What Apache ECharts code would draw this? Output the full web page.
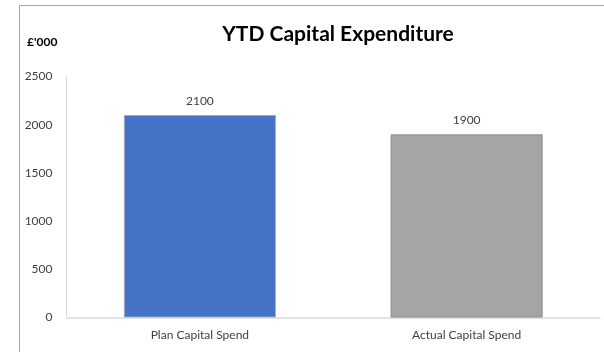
<!DOCTYPE html>
<html>
<head>
<meta charset="utf-8">
<script src="https://cdn.jsdelivr.net/npm/echarts@6/dist/echarts.min.js"></script>
<style>
  html, body { margin: 0; padding: 0; background: #ffffff; }
  #chart { width: 604px; height: 352px; }
</style>
</head>
<body>
<div id="chart"></div>
<script>
// Year-to-date capital figures, in £'000
const categories = ['Plan Capital Spend', 'Actual Capital Spend'];
const values = [2100, 1900];
const barColors = ['#4472C4', '#A5A5A5'];
const barBorders = ['#9fabc4', '#8c8c8c'];
const yTicks = { min: 0, max: 2500, interval: 500 };

const FONT = 'Lato, "Open Sans", sans-serif';

const chart = echarts.init(document.getElementById('chart'), null, { renderer: 'canvas' });

chart.setOption({
  animation: false,
  backgroundColor: '#ffffff',
  title: {
    text: 'YTD Capital Expenditure',
    left: 333,
    top: 19,
    textAlign: 'center',
    textStyle: { fontFamily: FONT, fontSize: 21, fontWeight: 'bold', color: '#000000' }
  },
  graphic: [
    {
      type: 'polyline',
      shape: { points: [[19.5, 352], [19.5, 5.5], [604, 5.5]] },
      style: { stroke: '#a6a6a6', lineWidth: 1, fill: null }
    },
    {
      type: 'text',
      left: 27,
      top: 36,
      style: { text: "£'000", font: 'bold 12px ' + FONT, fill: '#000000' }
    }
  ],
  grid: { left: 66.5, right: 4, top: 76.5, bottom: 34.5, containLabel: false },
  xAxis: {
    type: 'category',
    data: categories,
    axisLine: { show: true, lineStyle: { color: '#d9d9d9', width: 1.5 } },
    axisTick: { show: false },
    axisLabel: { fontFamily: FONT, fontSize: 12, color: '#404040', margin: 12 }
  },
  yAxis: {
    type: 'value',
    min: yTicks.min,
    max: yTicks.max,
    interval: yTicks.interval,
    axisLine: { show: true, lineStyle: { color: '#d9d9d9', width: 1 } },
    axisTick: { show: false },
    splitLine: { show: false },
    axisLabel: {
      fontFamily: FONT, fontSize: 12, color: '#404040', margin: 14,
      formatter: (v) => String(v)
    }
  },
  series: [{
    type: 'bar',
    barWidth: '57%',
    data: values.map((v, i) => ({
      value: v,
      itemStyle: { color: barColors[i], borderColor: barBorders[i], borderWidth: 1 }
    })),
    label: {
      show: true,
      position: 'top',
      distance: 8,
      fontFamily: FONT,
      fontSize: 12,
      color: '#404040'
    }
  }]
});
</script>
</body>
</html>
